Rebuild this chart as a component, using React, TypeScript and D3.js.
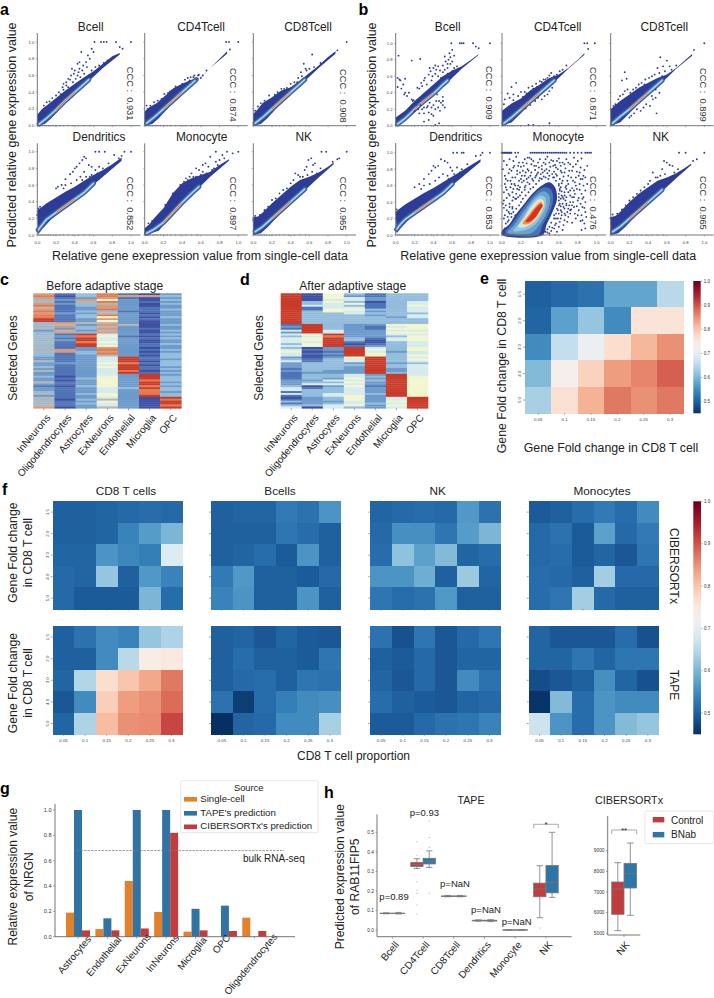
import React from "react";
import * as d3 from "d3";

const FONT = "'Liberation Sans', Arial, sans-serif";
const INK = "#222";
const AXIS = "#666";
const NAVY = "#2d3c96";

// ---------- panels a / b ----------
const cellNamesScatter = ["Bcell", "CD4Tcell", "CD8Tcell", "Dendritics", "Monocyte", "NK"];
const cccA = ["0.931", "0.874", "0.908", "0.852", "0.897", "0.965"];
const cccB = ["0.909", "0.871", "0.899", "0.853", "0.476", "0.965"];
const unitTicks = [0, 0.2, 0.4, 0.6, 0.8, 1.0];

// envelopes, mid-lines and outliers, as flat x,y lists in hundredths
const aUp = [
  [0,13, 5,20, 10,24, 20,33, 30,42, 40,50, 50,58, 60,65, 70,74, 80,83, 88,87],
  [0,17, 5,22, 13,27, 23,37, 31,45, 40,50, 50,55, 59,57, 70,69, 80,80, 88,89],
  [0,14, 5,20, 10,27, 20,34, 30,42, 40,46, 50,54, 60,63, 70,72, 80,82, 88,89],
  [0,30, 3,32, 10,38, 20,45, 30,52, 40,58, 50,65, 60,72, 70,78, 80,85, 90,93],
  [0,8, 5,13, 10,20, 20,32, 30,50, 40,62, 50,68, 60,72, 70,76, 80,84, 90,91],
  [0,22, 5,22, 10,27, 20,38, 30,48, 40,58, 50,66, 60,70, 70,75, 80,82, 86,87],
];
const aLo = [
  [0,0, 8,2, 15,9, 30,27, 50,48, 70,69, 88,85],
  [0,0, 8,2, 15,9, 30,27, 50,48, 70,69, 88,86],
  [0,0, 8,2, 15,9, 30,27, 50,48, 70,69, 88,86],
  [1,1, 5,7, 15,19, 30,32, 50,51, 70,70, 90,89],
  [0,0, 15,5, 30,25, 50,48, 70,70, 90,89],
  [0,0, 8,2, 15,9, 30,27, 50,48, 70,69, 86,85],
];
const aMid = [
  [2,2, 10,9, 20,19, 30,30, 40,40, 50,50, 55,55],
  [2,3, 10,10, 20,20, 30,30, 40,40, 50,50, 55,55],
  [2,3, 10,10, 20,20, 30,30, 40,40, 50,50, 55,55],
  [1,6, 5,12, 10,19, 20,27, 30,35, 40,43, 50,51, 60,62],
  [2,2, 10,7, 20,15, 30,27, 40,39, 50,50, 58,58],
  [2,4, 10,10, 20,20, 30,30, 40,40, 50,50, 55,55],
];
const aPts = [
  [61,100, 68,100, 71,100, 74,100, 84,100, 100,100, 88,94, 91,92, 47,88, 58,92, 60,88, 54,84, 56,80, 45,76, 43,74, 49,72, 37,68, 40,66, 45,68, 53,70, 33,56, 28,50, 31,48, 43,60, 58,66, 62,70, 28,43, 33,46, 38,52, 46,58, 25,38, 27,46, 36,60, 41,56, 50,62, 55,60, 35,55, 31,52, 48,66, 52,76, 39,62, 44,64, 7,24, 10,28, 13,29, 16,33, 20,36, 23,40, 66,72, 71,75, 75,78],
  [87,100, 90,100, 100,100, 91,91, 29,42, 33,47, 36,44, 40,50, 43,55, 46,57, 49,58, 52,58, 55,55, 57,60, 60,57, 62,60, 3,20, 6,24, 10,28, 14,30, 18,32, 21,38, 25,39, 48,54, 53,60, 58,61, 66,66, 38,47, 27,41, 2,24, 1,16, 4,18],
  [100,100, 90,90, 63,85, 54,74, 57,66, 52,59, 48,57, 36,45, 40,50, 44,52, 33,44, 30,44, 26,40, 23,37, 17,36, 12,30, 8,27, 5,23, 2,18, 60,68, 65,70, 72,75, 47,52, 51,64, 56,68],
  [62,100, 66,100, 72,100, 93,100, 100,100, 82,96, 87,92, 50,94, 48,90, 52,92, 45,86, 42,82, 38,76, 40,80, 35,73, 30,67, 26,60, 20,56, 22,58, 55,84, 58,82, 50,76, 58,72, 62,78, 66,82, 70,80, 76,86, 46,70, 52,70, 42,66, 36,62, 48,66, 30,60, 28,56, 90,95, 56,70, 64,74, 1,32, 1,28, 0,24, 3,34],
  [100,100, 94,98, 83,96, 76,100, 88,100, 70,94, 65,86, 72,78, 58,78, 62,84, 68,82, 76,88, 80,90, 85,92, 60,72, 55,70, 50,74, 46,66, 42,64, 38,60, 55,80, 66,74, 74,80, 78,84, 52,70, 48,70, 35,52, 30,50, 62,76, 44,68, 25,38, 22,36, 15,24, 8,17, 4,14],
  [73,100, 78,100, 100,100, 92,92, 59,90, 66,86, 55,78, 45,74, 50,70, 62,92, 64,84, 57,82, 68,74, 72,80, 43,66, 48,72, 53,70, 58,72, 60,68, 63,76, 40,62, 36,56, 32,54, 28,50, 24,44, 20,42, 16,34, 12,30, 2,23, 7,24, 5,21, 0,18, 85,88, 90,91],
];
const bUp = [
  [0,10, 10,18, 20,30, 30,40, 40,50, 50,60, 60,67, 70,72, 80,80, 88,87],
  [0,18, 10,27, 20,33, 30,43, 40,50, 50,58, 55,60, 60,62, 70,70, 80,80, 87,88],
  [0,20, 5,25, 10,30, 20,38, 30,46, 40,52, 50,58, 60,62, 70,70, 80,80, 87,87],
  [0,28, 3,31, 10,37, 20,44, 30,51, 40,57, 50,64, 60,71, 70,78, 80,85, 90,92],
  [],
  [0,22, 5,23, 10,28, 20,40, 30,50, 40,58, 50,66, 60,70, 70,75, 80,82, 86,87],
];
const bLo = [
  [0,0, 10,6, 20,16, 30,27, 50,47, 70,69, 87,85],
  [0,0, 10,4, 20,15, 30,27, 50,47, 70,69, 87,86],
  [0,0, 10,4, 20,15, 30,27, 50,47, 70,69, 87,85],
  [1,2, 5,8, 15,20, 30,32, 50,51, 70,70, 90,89],
  [],
  [0,0, 8,2, 15,9, 30,27, 50,48, 70,69, 86,85],
];
const bMid = [
  [2,2, 10,9, 20,20, 30,30, 40,39, 50,50, 55,55],
  [2,3, 10,10, 20,20, 30,30, 40,40, 50,50, 55,55],
  [2,3, 10,11, 20,20, 30,30, 40,40, 50,50, 55,55],
  [1,7, 5,13, 10,19, 20,27, 30,35, 40,43, 50,51, 60,62],
  [],
  [2,4, 10,10, 20,20, 30,30, 40,40, 50,50, 55,55],
];
const bPts = [
  [59,100, 68,100, 70,100, 72,100, 82,100, 85,96, 88,94, 100,100, 3,85, 2,58, 4,56, 5,55, 8,50, 10,57, 2,47, 6,45, 10,40, 9,38, 12,36, 14,40, 17,32, 19,31, 17,79, 26,81, 15,20, 20,18, 25,15, 30,15, 35,16, 38,14, 40,12, 42,20, 45,22, 47,18, 50,25, 50,30, 50,35, 48,28, 40,25, 33,22, 28,20, 22,25, 30,55, 35,62, 37,66, 40,70, 42,63, 45,60, 47,67, 50,73, 53,78, 56,80, 58,83, 60,78, 62,85, 60,92, 58,75, 55,70, 50,65, 45,72, 38,55, 33,50, 28,48, 25,45, 42,1, 46,3, 30,5, 35,7, 43,30, 44,38, 38,22, 52,22, 46,30, 36,28, 30,22, 26,25, 24,20, 34,24, 18,30, 23,46, 27,52, 31,58, 39,60, 43,68, 52,68, 55,63, 48,58, 55,75, 57,88, 62,70, 65,72, 60,66, 52,84, 42,73, 36,70],
  [87,100, 90,100, 98,100, 91,93, 15,52, 10,47, 6,39, 20,41, 3,32, 2,26, 8,34, 12,31, 17,36, 24,41, 28,46, 32,48, 36,51, 40,54, 44,56, 48,58, 50,61, 52,64, 55,60, 58,62, 61,66, 64,68, 30,25, 35,30, 38,34, 42,32, 45,36, 48,38, 50,3, 50,42, 53,46, 28,1, 33,1, 25,21, 22,35, 26,39, 33,45, 37,47, 42,53, 46,56, 12,38, 68,73],
  [100,100, 89,92, 15,65, 17,57, 12,55, 53,83, 60,79, 63,72, 49,15, 5,26, 8,32, 3,24, 10,36, 13,38, 15,42, 18,44, 21,40, 24,44, 27,46, 30,50, 33,52, 37,56, 41,58, 44,60, 47,62, 52,64, 55,60, 58,66, 65,68, 70,73, 35,22, 38,26, 42,24, 45,32, 48,34, 52,40, 28,20, 32,18, 25,15, 22,12, 20,10, 40,48, 36,50, 30,42, 50,70, 56,72, 48,44, 44,36],
  [61,100, 65,100, 70,100, 72,100, 92,100, 100,100, 85,96, 90,97, 48,92, 52,90, 45,84, 42,82, 40,84, 38,78, 35,74, 30,68, 25,62, 20,58, 55,88, 58,82, 60,78, 65,82, 70,80, 62,74, 50,74, 46,70, 55,72, 42,66, 36,62, 30,60, 27,56, 1,31, 1,27, 76,86, 68,76, 56,68],
  [0,100, 1,100, 2,100, 3,100, 4,100, 5,100, 6,100, 7,100, 8,100, 9,100, 10,100, 14,100, 17,100, 30,100, 32,100, 34,100, 36,100, 38,100, 40,100, 42,100, 44,100, 46,100, 48,100, 50,100, 52,100, 54,100, 56,100, 58,100, 60,100, 62,100, 64,100, 66,100, 68,100, 72,100, 76,100, 80,100, 84,100, 88,100, 90,100, 92,100, 94,100,
   2,90, 5,85, 8,92, 12,90, 15,95, 13,84, 18,88, 20,83, 24,92, 26,87, 29,94, 33,90, 36,84, 40,92, 44,88, 48,95, 52,91, 56,85, 60,93, 64,88, 68,92, 72,86, 76,94, 80,90, 84,93, 22,78, 27,80, 31,76, 35,79, 39,82, 43,76, 47,80, 51,83, 55,77, 59,80, 63,76, 67,81, 71,78, 75,83, 79,77, 83,82, 87,79, 3,72, 7,75, 11,70, 16,74, 20,68, 24,72, 28,70, 32,68, 36,72, 40,69, 44,71, 48,75, 55,70, 58,72, 61,68, 65,71, 69,66, 73,70, 77,64, 81,72, 85,68,
   3,62, 6,66, 9,58, 13,62, 17,60, 21,64, 25,60, 29,62, 60,60, 63,63, 67,58, 70,62, 74,57, 78,60, 82,55, 86,60, 2,52, 5,55, 8,48, 11,52, 15,50, 18,55, 21,52, 24,55, 60,50, 63,53, 66,48, 70,52, 74,46, 77,50, 81,45, 84,50, 2,42, 5,45, 8,38, 11,42, 14,44, 17,46, 60,42, 64,38, 67,42, 71,36, 75,40, 79,35, 83,38, 87,33, 2,33, 5,30, 8,34, 11,32, 58,32, 62,30, 65,34, 69,28, 73,31, 77,26, 81,30, 84,24, 88,28, 3,24, 6,22, 55,24, 59,20, 63,24, 66,18, 70,22, 74,15, 78,20, 83,17, 57,14, 60,10, 55,8, 52,5, 58,4, 64,6, 48,3,
   1,80, 4,68, 10,78, 14,70, 19,76, 23,84, 28,78, 31,86, 35,70, 38,88, 42,80, 46,86, 50,78, 54,90, 57,74, 62,84, 66,76, 70,88, 74,78, 78,86, 82,76, 86,72, 90,84, 4,58, 7,50, 10,62, 12,46, 16,56, 19,48, 61,56, 65,44, 68,56, 72,48, 76,54, 80,42, 85,44, 88,40, 1,38, 4,36, 7,28, 10,26, 60,36, 63,28, 66,26, 68,36, 72,26, 76,34, 80,24, 85,34, 89,22, 2,20, 57,20, 61,16, 65,12, 69,16,
   4,14, 7,18, 10,22, 3,8, 8,26, 12,28, 15,32, 18,36, 6,16, 14,24, 11,34, 20,40, 22,44, 25,48, 28,52, 30,56, 33,58, 36,62, 39,66, 42,68, 46,70, 50,72, 54,70, 57,66, 60,62, 62,58, 61,54, 63,48, 60,46, 62,44, 61,38, 62,35, 59,30, 57,26, 55,20, 52,15, 50,10, 48,7, 46,4, 56,12, 53,9, 50,2, 24,58, 27,64, 30,72, 33,66, 37,74, 41,74, 45,78, 49,68, 53,74, 57,82, 61,88, 34,84, 38,76, 42,84, 46,92, 50,88, 54,84, 58,90, 62,78, 66,86, 70,72, 64,66, 68,60, 72,54, 66,52, 64,46, 68,46, 72,40, 68,38, 66,32, 70,32, 74,36, 60,26, 62,20, 67,24, 72,30, 76,46, 79,56, 82,62, 86,46, 88,54, 75,66, 78,70, 83,68, 88,70, 90,62, 85,18, 87,14, 88,8, 84,6, 15,44, 12,56, 9,66, 14,60, 18,66, 21,72, 23,66, 26,68, 19,58, 16,78, 12,82, 8,80, 17,84, 22,88, 27,94, 31,92, 25,76],
  [73,100, 80,100, 100,100, 92,92, 88,90, 57,90, 60,88, 66,84, 55,80, 45,76, 50,70, 63,85, 53,72, 58,74, 68,76, 72,80, 42,66, 48,70, 60,68, 40,62, 36,58, 32,54, 28,50, 24,46, 20,42, 16,36, 12,31, 2,25, 7,26, 0,20],
];
const bottomStrip = [2, 4, 6, 8, 10, 12, 14, 17, 20, 24, 28, 33, 38, 44, 50, 56];

// Monocyte (b) density contours, outer to inner
const monoContours = [
  [0,5, 7,12, 14,24, 23,37, 32,50, 42,60, 50,64, 56,58, 58,43, 53,27, 47,12, 43,0, 0,0],
  [3,3, 10,13, 18,26, 27,40, 36,52, 45,58, 52,55, 54,42, 50,27, 43,12, 38,0, 10,0],
  [6,3, 13,12, 20,24, 28,37, 37,49, 45,53, 50,48, 50,36, 45,22, 38,10, 31,2, 15,1],
  [12,5, 18,14, 25,27, 33,41, 41,48, 46,45, 46,34, 41,22, 34,12, 25,6],
  [17,10, 24,22, 32,36, 40,44, 44,41, 43,32, 37,21, 30,13, 23,9],
  [20,12, 26,23, 33,34, 40,42, 44,41, 43,32, 38,22, 31,14],
  [22,14, 28,24, 35,34, 41,40, 43,37, 39,27, 33,18, 27,13],
  [25,16, 30,24, 36,33, 41,38, 43,36, 39,28, 34,20, 29,16],
];
const monoContourColors = ["#2f3f98", "#4575b4", "#6ba3cd", "#93c6e0", "#cfe8ef", "#fee090", "#f78a4f", "#d73027"];

// ---------- panels c / d ----------
const geneCols = ["InNeurons", "Oligodendrocytes", "Astrocytes", "ExNeurons", "Endothelial", "Microglia", "OPC"];
const heatPalette = ["#3f4fa3", "#4f74b5", "#6c9aca", "#93bcdc", "#d6ebee", "#f2f6cf", "#bdb5b0", "#d99a7a", "#e27a50", "#c93a28"];
const beforeRows = [
  "787367867878899 363623 3633633 63633 226223262 232262122362 636367",
  "101212111121111 767267 1212111 17711 111211111 101011011111 101110",
  "332763322323322 623323 9899899 22332 222222222 223222322232 232322",
  "887586778368575 676767 4544545 78786 444545444 455555544455 465446",
  "171222222122222 262222 2122222 22222 999899989 222222232222 222222",
  "070010011101010 000100 1010011 01010 110101101 999899898889 000000",
  "232323223222322 232232 3232232 23233 323332323 233323233233 989989",
];
const afterRows = [
  "9999999999999999 12142 4344434 34544 234222121 111222344141 013134",
  "0000334113333333 99999 5455455 01010 011333332 333234013333 222230",
  "5554544455333333 33344 9899999 22121 233333322 332434233344 332344",
  "3244353454433333 22222 2233101 99999 544232222 445454544445 554453",
  "1122011132323333 21122 2210012 45455 999999999 232322122232 222322",
  "3333333333332333 54545 4344333 33233 333233223 999999999999 445454",
  "3333445444344333 55545 4555444 55445 454344444 455555555555 999999",
];

// ---------- panels e / f ----------
const propLabels = ["0.05", "0.1", "0.15", "0.2", "0.25", "0.3"];
const foldLabels = ["1.5", "2.0", "3.0", "4.0", "5.0"];
const eVals = [
  [.50, .51, .52, .58, .58, .65],
  [.505, .575, .62, .55, .76, .76],
  [.55, .66, .71, .77, .815, .85],
  [.605, .73, .785, .84, .86, .89],
  [.635, .765, .82, .87, .85, .87],
];
const fCD8Ciber = [[.50,.50,.505,.51,.515,.51],[.50,.50,.505,.54,.57,.60],[.505,.505,.56,.545,.535,.69],[.51,.505,.62,.50,.565,.54],[.51,.495,.495,.495,.60,.515]];
const fBCiber = [[.50,.505,.505,.53,.52,.56],[.50,.50,.50,.525,.515,.50],[.50,.505,.515,.495,.56,.50],[.53,.565,.50,.50,.495,.51],[.54,.56,.50,.50,.56,.50]];
const fNKCiber = [[.505,.51,.515,.51,.565,.52],[.51,.555,.555,.525,.57,.60],[.515,.615,.575,.605,.505,.515],[.56,.56,.59,.50,.625,.505],[.525,.515,.52,.565,.50,.50]];
const fMonoCiber = [[.495,.50,.515,.53,.515,.55],[.51,.52,.495,.575,.51,.53],[.51,.515,.495,.505,.49,.525],[.515,.51,.50,.63,.51,.51],[.515,.525,.63,.51,.50,.50]];
const fCD8Tape = [[.50,.52,.55,.54,.62,.64],[.50,.50,.55,.65,.74,.75],[.505,.645,.77,.80,.83,.87],[.49,.55,.79,.84,.85,.88],[.505,.64,.81,.85,.855,.91]];
const fBTape = [[.50,.505,.49,.505,.495,.49],[.50,.515,.50,.50,.495,.525],[.50,.51,.515,.50,.525,.52],[.52,.465,.515,.535,.55,.555],[.44,.505,.51,.55,.55,.635]];
const fNKTape = [[.52,.485,.525,.49,.51,.525],[.50,.495,.51,.49,.505,.505],[.505,.49,.51,.49,.55,.52],[.515,.50,.495,.49,.505,.51],[.495,.495,.51,.52,.525,.54]];
const fMonoTape = [[.505,.49,.49,.49,.515,.485],[.505,.505,.525,.505,.525,.525],[.48,.49,.50,.555,.505,.485],[.455,.605,.515,.56,.55,.55],[.67,.56,.515,.56,.605,.62]];
const fTitles = ["CD8 T cells", "Bcells", "NK", "Monocytes"];
const cbarTicks = [0.5, 0.6, 0.7, 0.8, 0.9, 1.0];

// ---------- panel g ----------
const gCats = ["Astrocytes", "Endothelial", "ExNeurons", "InNeurons", "Microglia", "OPC", "Oligodendrocytes"];
const gSeriesNames = ["Single-cell", "TAPE's prediction", "CIBERSORTx's prediction"];
const gSingle = [.19, .06, .44, .195, .04, 0, .15];
const gTape = [1, .145, 1, 1, .22, .245, 0];
const gCiber = [.05, .05, .065, .82, .05, .045, .045];
const gColors = ["#E1812C", "#3274A1", "#C03D3E"];
const gBulk = 0.68;
const gTicks = [0, .2, .4, .6, .8, 1];

// ---------- panel h ----------
const hCats = ["Bcell", "CD4Tcell", "CD8Tcell", "Dendritics", "Monocyte", "NK"];
const hGroups = ["Control", "BNab"];
const hColors = ["#C03D3E", "#2E76A8"];
type Box = { lo: number; q1: number; med: number; q3: number; hi: number; out: number[] };
const hControl: Box[] = [
  { lo: .083, q1: .084, med: .085, q3: .086, hi: .088, out: [] },
  { lo: .315, q1: .325, med: .335, q3: .345, hi: .365, out: [.452, .384, .247, .205, .188, .128, .082] },
  { lo: .170, q1: .171, med: .173, q3: .174, hi: .177, out: [] },
  { lo: .045, q1: .047, med: .048, q3: .05, hi: .052, out: [] },
  { lo: 0, q1: 0, med: 0, q3: 0.001, hi: .001, out: [] },
  { lo: .063, q1: .17, med: .21, q3: .24, hi: .329, out: [.01] },
];
const hBNab: Box[] = [
  { lo: .082, q1: .084, med: .085, q3: .086, hi: .09, out: [] },
  { lo: .32, q1: .338, med: .35, q3: .367, hi: .405, out: [.558, .474, .423, .188] },
  { lo: .170, q1: .172, med: .173, q3: .174, hi: .177, out: [] },
  { lo: .043, q1: .046, med: .048, q3: .05, hi: .053, out: [] },
  { lo: 0, q1: 0, med: 0, q3: 0.001, hi: .001, out: [] },
  { lo: .167, q1: .19, med: .245, q3: .33, hi: .5, out: [] },
];
const hPvals = ["p=0.89", "p=0.93", "p=NaN", "p=NaN", "p=NaN"];
const hTicks = [0, .1, .2, .3, .4, .5];
const ciberControl: Box = { lo: 5129, q1: 5919, med: 7145, q3: 7484, hi: 8420, out: [] };
const ciberBNab: Box = { lo: 5871, q1: 7194, med: 7887, q3: 8387, hi: 9371, out: [] };
const ciberTicks = [5000, 6000, 7000, 8000, 9000];

// ---------- helpers ----------
const pairs = (a: number[]): [number, number][] =>
  d3.range(0, a.length, 2).map((i) => [a[i] / 100, a[i + 1] / 100] as [number, number]);
const clean = (s: string) => s.replace(/ /g, "");
const rdbu = (v: number) => d3.interpolateRdBu(Math.max(0, Math.min(1, (1 - v) / 0.55)));

type TProps = { x: number; y: number; s: number; rot?: number; anchor?: string; bold?: boolean; fill?: string; children: React.ReactNode };
const T = ({ x, y, s, rot, anchor, bold, fill, children }: TProps) => (
  <text
    transform={`translate(${x},${y})${rot ? ` rotate(${rot})` : ""}`}
    fontSize={s}
    fontFamily={FONT}
    fontWeight={bold ? 700 : 400}
    textAnchor={anchor ?? "start"}
    fill={fill ?? INK}
  >
    {children}
  </text>
);

function Scatter(p: {
  x0: number; x1: number; y0: number; y1: number; top: number; right: number;
  up: number[]; lo: number[]; mid: number[]; pts: number[]; ccc: string; title: string;
  titleX: number; titleY: number; cccX: number; cccY: number; yLabels: boolean; xLabels: boolean; mono?: boolean;
}) {
  const x = d3.scaleLinear().domain([0, 1]).range([p.x0, p.x1]);
  const y = d3.scaleLinear().domain([0, 1]).range([p.y0, p.y1]);
  const line = d3.line<[number, number]>().x((d) => x(d[0])).y((d) => y(d[1]));
  const smooth = d3.line<[number, number]>().x((d) => x(d[0])).y((d) => y(d[1])).curve(d3.curveCatmullRomClosed);
  const mid = pairs(p.mid);
  const hot = mid.filter((d) => d[0] >= 0.2 && d[0] <= 0.42);
  const poly = [...pairs(p.up), ...pairs(p.lo).reverse()];
  const band = (stroke: string, w: number, d: [number, number][] = mid) => (
    <path d={line(d) ?? ""} fill="none" stroke={stroke} strokeWidth={w} strokeLinecap="round" strokeLinejoin="round" />
  );
  return (
    <g>
      <T x={p.titleX} y={p.titleY} s={11.9} anchor="middle">{p.title}</T>
      {!p.mono && <path d={(line(poly) ?? "") + "Z"} fill={NAVY} />}
      {!p.mono && band("#38589f", 5)}
      {!p.mono && band("#4f82b9", 3)}
      {!p.mono && band("#7db5d4", 1.8)}
      {!p.mono && band("#d6ecf0", 0.8)}
      {!p.mono && band("#fee090", 1.4, hot)}
      {!p.mono && band("#e8583a", 0.9, hot)}
      {p.mono && monoContours.map((c, i) => (
        <path key={i} d={smooth(pairs(c)) ?? ""} fill={monoContourColors[i]} />
      ))}
      {bottomStrip.map((v) => (
        <circle key={v} cx={x(v / 100)} cy={y(0)} r={0.7} fill="#5f78b8" opacity={0.7} />
      ))}
      {pairs(p.pts).map((d, i) => (
        <circle key={i} cx={x(d[0])} cy={y(d[1])} r={0.95} fill={NAVY} />
      ))}
      <path d={`M${p.x0},${p.top}V${p.y0}H${p.right}`} fill="none" stroke={AXIS} strokeWidth={0.9} />
      {unitTicks.map((t) => (
        <g key={t}>
          <line x1={x(t)} x2={x(t)} y1={p.y0} y2={p.y0 + 1.5} stroke={AXIS} strokeWidth={0.5} />
          <line x1={p.x0 - 1.5} x2={p.x0} y1={y(t)} y2={y(t)} stroke={AXIS} strokeWidth={0.5} />
          {p.xLabels && <T x={x(t)} y={p.y0 + 8.5} s={4.2} anchor="middle" fill="#444">{t.toFixed(1)}</T>}
          {p.yLabels && <T x={p.x0 - 3} y={y(t) + 1.5} s={4.2} anchor="end" fill="#444">{t.toFixed(1)}</T>}
        </g>
      ))}
      <T x={p.cccX} y={p.cccY} s={9.3} rot={90} fill="#333">{`CCC :\u00a0\u00a0${p.ccc}`}</T>
    </g>
  );
}

function ScatterGroup(p: {
  xs: [number, number][]; rows: [number, number, number][]; up: number[][]; lo: number[][]; mid: number[][]; pts: number[][];
  ccc: string[]; titleXs: number[]; cccXs: number[]; cccYs: number[]; monoIndex?: number;
}) {
  return (
    <g>
      {cellNamesScatter.map((name, i) => {
        const c = i % 3;
        const r = Math.floor(i / 3);
        const [x0, x1] = p.xs[c];
        const [y0, y1, top] = p.rows[r];
        return (
          <Scatter
            key={name} x0={x0} x1={x1} y0={y0} y1={y1} top={top} right={x0 + (x1 - x0) * 1.1}
            up={p.up[i]} lo={p.lo[i]} mid={p.mid[i]} pts={p.pts[i]} ccc={p.ccc[i]} title={name}
            titleX={p.titleXs[i]} titleY={r === 0 ? 31 : 140.7} cccX={p.cccXs[c]} cccY={p.cccYs[i]}
            yLabels={c === 0} xLabels={r === 1} mono={i === p.monoIndex}
          />
        );
      })}
    </g>
  );
}

function GeneHeat(p: { x0: number; x1: number; y0: number; y1: number; rows: string[]; title: string; titleX: number; labelX: number }) {
  const data = p.rows.map(clean);
  const n = data[0].length;
  const x = d3.scaleBand<string>().domain(geneCols).range([p.x0, p.x1]);
  const y = d3.scaleBand<string>().domain(d3.range(n).map(String)).range([p.y0, p.y1]);
  return (
    <g>
      <T x={p.titleX} y={290} s={12} anchor="middle">{p.title}</T>
      <T x={p.labelX} y={358} s={12} rot={-90} anchor="middle">Selected Genes</T>
      {geneCols.map((g, ci) => (
        <g key={g}>
          {d3.range(n).map((r) => (
            <rect key={r} x={x(g)} y={y(String(r))} width={x.bandwidth() + 0.3} height={y.bandwidth() + 0.3} fill={heatPalette[+data[ci][r]]} />
          ))}
          <line x1={x(g)! + x.bandwidth() / 2} x2={x(g)! + x.bandwidth() / 2} y1={p.y1} y2={p.y1 + 2} stroke={AXIS} strokeWidth={0.6} />
          <T x={x(g)! + x.bandwidth() / 2 + 7} y={418} s={10} rot={-50} anchor="end">{g}</T>
        </g>
      ))}
    </g>
  );
}

function FoldHeat(p: { x0: number; x1: number; y0: number; y1: number; vals: number[][]; xLabels: boolean; yLabels: boolean }) {
  const x = d3.scaleBand<string>().domain(propLabels).range([p.x0, p.x1]);
  const y = d3.scaleBand<string>().domain(foldLabels).range([p.y0, p.y1]);
  return (
    <g>
      {foldLabels.map((f, r) =>
        propLabels.map((l, c) => (
          <rect key={l + f} x={x(l)} y={y(f)} width={x.bandwidth() + 0.6} height={y.bandwidth() + 0.6} fill={rdbu(p.vals[r][c])} shapeRendering="crispEdges" />
        ))
      )}
      {propLabels.map((l) => (
        <g key={l}>
          <line x1={x(l)! + x.bandwidth() / 2} x2={x(l)! + x.bandwidth() / 2} y1={p.y1} y2={p.y1 + 1.5} stroke={AXIS} strokeWidth={0.6} />
          {p.xLabels && <T x={x(l)! + x.bandwidth() / 2} y={p.y1 + 8} s={4.4} anchor="middle" fill="#444">{l}</T>}
        </g>
      ))}
      {foldLabels.map((f) => (
        <g key={f}>
          <line x1={p.x0 - 2} x2={p.x0} y1={y(f)! + y.bandwidth() / 2} y2={y(f)! + y.bandwidth() / 2} stroke={AXIS} strokeWidth={0.6} />
          {p.yLabels && <T x={p.x0 - 4} y={y(f)! + y.bandwidth() / 2} s={4.4} rot={-90} anchor="middle" fill="#444">{f}</T>}
        </g>
      ))}
    </g>
  );
}

function ColorBar(p: { id: string; x0: number; x1: number; y0: number; y1: number; min: number }) {
  const y = d3.scaleLinear().domain([p.min, 1]).range([p.y1, p.y0]);
  const stops = d3.range(0, 21).map((i) => i / 20);
  return (
    <g>
      <defs>
        <linearGradient id={p.id} x1="0" x2="0" y1="1" y2="0">
          {stops.map((s) => (
            <stop key={s} offset={s} stopColor={rdbu(p.min + (1 - p.min) * s)} />
          ))}
        </linearGradient>
      </defs>
      <rect x={p.x0} y={p.y0} width={p.x1 - p.x0} height={p.y1 - p.y0} fill={`url(#${p.id})`} />
      {cbarTicks.map((t) => (
        <g key={t}>
          <line x1={p.x1} x2={p.x1 + 1.5} y1={y(t)} y2={y(t)} stroke={AXIS} strokeWidth={0.5} />
          <T x={p.x1 + 3} y={y(t) + 1.6} s={4.5} fill="#333">{t.toFixed(1)}</T>
        </g>
      ))}
    </g>
  );
}

function BoxMark(p: { b: Box; x0: number; x1: number; y: d3.ScaleLinear<number, number>; color: string; capW: number }) {
  const c = (p.x0 + p.x1) / 2;
  const { b, y } = p;
  return (
    <g stroke="#777" strokeWidth={0.8}>
      <line x1={c} x2={c} y1={y(b.lo)} y2={y(b.hi)} />
      <line x1={c - p.capW} x2={c + p.capW} y1={y(b.lo)} y2={y(b.lo)} />
      <line x1={c - p.capW} x2={c + p.capW} y1={y(b.hi)} y2={y(b.hi)} />
      <rect x={p.x0} y={y(b.q3)} width={p.x1 - p.x0} height={Math.max(0.3, y(b.q1) - y(b.q3))} fill={p.color} />
      <line x1={p.x0} x2={p.x1} y1={y(b.med)} y2={y(b.med)} />
      {b.out.map((o) => (
        <circle key={o} cx={c} cy={y(o)} r={0.5} fill="#888" stroke="none" />
      ))}
    </g>
  );
}

function PanelG() {
  const x0 = d3.scaleBand<string>().domain(gCats).range([63.3, 269]);
  const inner = d3.scaleBand<string>().domain(gSeriesNames).range([0, 24]);
  const y = d3.scaleLinear().domain([0, 1]).range([936.7, 810]);
  const series = [gSingle, gTape, gCiber];
  return (
    <g>
      {gCats.map((c, i) => {
        const cx = x0(c)! + x0.bandwidth() / 2;
        return (
          <g key={c}>
            {gSeriesNames.map((s, k) =>
              series[k][i] > 0 ? (
                <rect key={s} x={cx - 12 + inner(s)!} y={y(series[k][i])} width={inner.bandwidth()} height={y(0) - y(series[k][i])} fill={gColors[k]} />
              ) : null
            )}
            <line x1={cx} x2={cx} y1={y(0)} y2={y(0) + 2} stroke={AXIS} strokeWidth={0.6} />
            <T x={cx - 1} y={941.5 + c.length * 1.55} s={9.8} rot={-50} anchor="middle">{c}</T>
          </g>
        );
      })}
      <line x1={77} x2={284} y1={y(gBulk)} y2={y(gBulk)} stroke="#777" strokeWidth={0.7} strokeDasharray="2.5 1" />
      <T x={243} y={861.7} s={10}>bulk RNA-seq</T>
      <path d={`M55,804V${y(0)}H295`} fill="none" stroke={AXIS} strokeWidth={0.9} />
      {gTicks.map((t) => (
        <g key={t}>
          <line x1={53} x2={55} y1={y(t)} y2={y(t)} stroke={AXIS} strokeWidth={0.6} />
          <T x={51.5} y={y(t) + 2} s={5.6} anchor="end" fill="#333">{t.toFixed(1)}</T>
        </g>
      ))}
      <T x={17} y={876.7} s={12.1} rot={-90} anchor="middle">Relative expression value</T>
      <T x={33} y={876.7} s={12.1} rot={-90} anchor="middle">of NRGN</T>
      <rect x={180.7} y={780.7} width={137.3} height={52} rx={1.5} fill="#fff" stroke="#ddd" strokeWidth={0.8} />
      <T x={248.7} y={790.7} s={9.3} anchor="middle">Source</T>
      {gSeriesNames.map((s, k) => (
        <g key={s}>
          <rect x={184} y={[797, 811, 824.5][k]} width={13} height={4.6} fill={gColors[k]} />
          <T x={200.3} y={[801.5, 815.7, 829][k]} s={9.65}>{s}</T>
        </g>
      ))}
    </g>
  );
}

function PanelH() {
  const x = d3.scaleBand<string>().domain(hCats).range([377, 561.3]);
  const y = d3.scaleLinear().domain([0, .5]).range([930, 832.3]);
  const yC = d3.scaleLinear().domain([5000, 9000]).range([933.3, 850.7]);
  const pX = [394, 424.3, 455, 486, 516.7];
  const pY = [900, 816, 887.3, 913, 925];
  const centre = (c: string) => x(c)! + x.bandwidth() / 2;
  const cC = 624;
  return (
    <g>
      <T x={471} y={803.7} s={10.6} anchor="middle">TAPE</T>
      <T x={629} y={803.7} s={10.8} anchor="middle">CIBERSORTx</T>
      {hCats.map((c, i) => {
        const cx = centre(c);
        return (
          <g key={c}>
            <BoxMark b={hControl[i]} x0={cx - 12.3} x1={cx} y={y} color={hColors[0]} capW={3.2} />
            <BoxMark b={hBNab[i]} x0={cx} x1={cx + 12.3} y={y} color={hColors[1]} capW={3.2} />
            <line x1={cx} x2={cx} y1={936.7} y2={938.5} stroke={AXIS} strokeWidth={0.6} />
            <T x={cx + 7} y={945} s={10} rot={-50} anchor="end">{c}</T>
            {i < 5 && <T x={pX[i]} y={pY[i]} s={9.5} anchor="middle">{hPvals[i]}</T>}
          </g>
        );
      })}
      <path d="M377,814.3V936.7H571.7" fill="none" stroke={AXIS} strokeWidth={0.9} />
      {hTicks.map((t) => (
        <g key={t}>
          <line x1={375.5} x2={377} y1={y(t)} y2={y(t)} stroke={AXIS} strokeWidth={0.6} />
          <T x={374} y={y(t) + 1.7} s={4.8} anchor="end" fill="#333">{t.toFixed(1)}</T>
        </g>
      ))}
      <path d="M533.7,828.3V824.3H558.3V828.3" fill="none" stroke="#888" strokeWidth={0.7} />
      <T x={546} y={827} s={8} anchor="middle">*</T>
      <T x={344} y={876.7} s={12.1} rot={-90} anchor="middle">Predicted expression value</T>
      <T x={358.5} y={876.7} s={12.1} rot={-90} anchor="middle">of RAB11FIP5</T>

      <BoxMark b={ciberControl} x0={cC - 12.3} x1={cC} y={yC} color={hColors[0]} capW={3.4} />
      <BoxMark b={ciberBNab} x0={cC} x1={cC + 12.6} y={yC} color={hColors[1]} capW={3.4} />
      <path d="M607.7,816V935H640.3" fill="none" stroke={AXIS} strokeWidth={0.9} />
      {ciberTicks.map((t) => (
        <g key={t}>
          <line x1={606} x2={607.7} y1={yC(t)} y2={yC(t)} stroke={AXIS} strokeWidth={0.6} />
          <T x={604.5} y={yC(t) + 1.7} s={4.8} anchor="end" fill="#333">{t}</T>
        </g>
      ))}
      <line x1={cC} x2={cC} y1={935} y2={937} stroke={AXIS} strokeWidth={0.6} />
      <T x={cC + 6} y={945} s={10} rot={-50} anchor="end">NK</T>
      <path d="M611.7,834.3V830H636.7V834.3" fill="none" stroke="#888" strokeWidth={0.7} />
      <T x={624} y={833} s={8} anchor="middle">**</T>

      <rect x={645} y={811} width={68.7} height={32.7} rx={1.5} fill="#fff" stroke="#ddd" strokeWidth={0.8} />
      {hGroups.map((g, k) => (
        <g key={g}>
          <rect x={652.7} y={[817, 832][k]} width={11.6} height={5.4} fill={hColors[k]} />
          <T x={671} y={[823.7, 838.3][k]} s={10}>{g}</T>
        </g>
      ))}
    </g>
  );
}

export default function App() {
  const fCols: [number, number][] = [[52.7, 182.3], [211, 340.7], [370.3, 500.3], [528.7, 658.7]];
  const fTop = [fCD8Ciber, fBCiber, fNKCiber, fMonoCiber];
  const fBottom = [fCD8Tape, fBTape, fNKTape, fMonoTape];
  const fTitleX = [126, 280, 437.7, 602];
  return (
    <svg width={714} height={998} viewBox="0 0 714 998" style={{ position: "absolute", left: 0, top: 0, background: "#fff" }}>
      {/* panel letters */}
      <T x={0} y={15} s={16} bold fill="#000">a</T>
      <T x={358.5} y={15} s={16} bold fill="#000">b</T>
      <T x={0} y={285} s={16} bold fill="#000">c</T>
      <T x={240} y={285} s={16} bold fill="#000">d</T>
      <T x={480} y={284} s={16} bold fill="#000">e</T>
      <T x={2} y={495} s={16} bold fill="#000">f</T>
      <T x={0} y={794} s={16} bold fill="#000">g</T>
      <T x={324} y={798} s={16} bold fill="#000">h</T>

      {/* a */}
      <ScatterGroup
        xs={[[37.3, 131], [144.7, 238.3], [253.3, 346.7]]}
        rows={[[125.7, 42, 33], [235, 151.7, 143.3]]}
        up={aUp} lo={aLo} mid={aMid} pts={aPts} ccc={cccA}
        titleXs={[90.7, 201, 308, 99, 201.7, 303.7]}
        cccXs={[126.7, 230, 340]} cccYs={[66.7, 68, 69, 176.7, 176.7, 176.7]}
      />
      <T x={16} y={135} s={12.5} rot={-90} anchor="middle">Predicted relative gene expression value</T>
      <T x={200} y={260} s={12.5} anchor="middle">Relative gene exepression value from single-cell data</T>

      {/* b */}
      <ScatterGroup
        xs={[[395.7, 490], [502, 596.7], [610.7, 704.3]]}
        rows={[[125.7, 43.3, 33], [235, 152.7, 143]]}
        up={bUp} lo={bLo} mid={bMid} pts={bPts} ccc={cccB} monoIndex={4}
        titleXs={[447.7, 557.7, 664.3, 455.7, 558.3, 660.7]}
        cccXs={[486, 590, 700]} cccYs={[66, 67, 68, 176, 176, 176]}
      />
      <T x={376} y={135} s={12.5} rot={-90} anchor="middle">Predicted relative gene expression value</T>
      <T x={548.3} y={260} s={12.5} anchor="middle">Relative gene exepression value from single-cell data</T>

      {/* c, d */}
      <GeneHeat x0={33.3} x1={181.3} y0={293.3} y1={408.3} rows={beforeRows} title="Before adaptive stage" titleX={104.7} labelX={16.5} />
      <GeneHeat x0={280.7} x1={428} y0={293.3} y1={408.3} rows={afterRows} title="After adaptive stage" titleX={352.7} labelX={263} />

      {/* e */}
      <FoldHeat x0={525} x1={683.3} y0={281} y1={413.3} vals={eVals} xLabels yLabels />
      <ColorBar id="cbE" x0={693.3} x1={700.7} y0={281} y1={413.3} min={0.452} />
      <T x={506} y={366} s={12.3} rot={-90} anchor="middle">Gene Fold change in CD8 T cell</T>
      <T x={611} y={451.7} s={12.3} anchor="middle">Gene Fold change in CD8 T cell</T>

      {/* f */}
      {fTitles.map((t, i) => (
        <g key={t}>
          <T x={fTitleX[i]} y={495} s={11.8} anchor="middle">{t}</T>
          <FoldHeat x0={fCols[i][0]} x1={fCols[i][1]} y0={501.3} y1={609} vals={fTop[i]} xLabels={false} yLabels={i === 0} />
          <FoldHeat x0={fCols[i][0]} x1={fCols[i][1]} y0={626.3} y1={734.3} vals={fBottom[i]} xLabels yLabels={i === 0} />
        </g>
      ))}
      <ColorBar id="cbF" x0={693.3} x1={701} y0={501.3} y1={734.3} min={0.45} />
      <T x={670} y={566} s={12} rot={90} anchor="middle">CIBERSORTx</T>
      <T x={670} y={685} s={12} rot={90} anchor="middle">TAPE</T>
      <T x={16.5} y={552.7} s={12.2} rot={-90} anchor="middle">Gene Fold change</T>
      <T x={31.5} y={552.7} s={12.2} rot={-90} anchor="middle">in CD8 T cell</T>
      <T x={16.5} y={683} s={12.2} rot={-90} anchor="middle">Gene Fold change</T>
      <T x={31.5} y={683} s={12.2} rot={-90} anchor="middle">in CD8 T cell</T>
      <T x={353.5} y={760} s={12} anchor="middle">CD8 T cell proportion</T>

      <PanelG />
      <PanelH />
    </svg>
  );
}
